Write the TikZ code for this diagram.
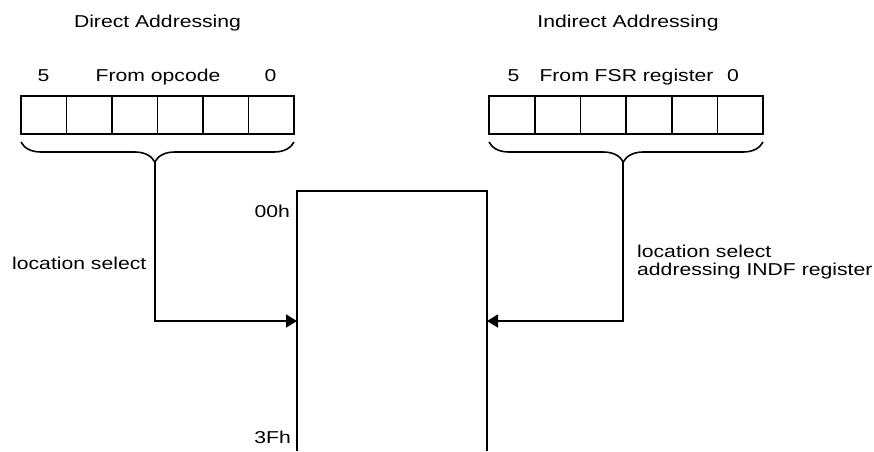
\documentclass[tikz,border=0pt]{standalone}
\usepackage{fontspec}
\setmainfont{Liberation Sans}
\usepackage{graphicx}
\usetikzlibrary{arrows.meta,decorations.pathreplacing}
\newcommand{\sx}[1]{\scalebox{1.23}[1]{#1}}
\begin{document}
\begin{tikzpicture}[x=1pt,y=-1pt,
  font=\fontsize{17.2}{18}\selectfont,
  cell/.style={draw=black,line width=1.6pt,minimum width=45.6pt,minimum height=38pt,inner sep=0pt},
  lbl/.style={inner sep=0pt,anchor=base},
  bracestyle/.style={draw=black,line width=1.6pt,decorate,decoration={brace,amplitude=20pt,mirror,aspect=0.49}},
  conn/.style={draw=black,line width=1.7pt,-{Triangle[length=11pt,width=13pt]}},
  memline/.style={draw=black,line width=1.7pt}]
\useasboundingbox (0,0) rectangle (874,451);
% registers
\foreach \i in {0,...,5}{
  \node[cell] (L\i) at ({21+45.5*\i+22.75},115) {};
  \node[cell] (R\i) at ({489+45.67*\i+22.83},115) {};
}
% titles
\node[lbl] (tl) at (157.5,27.3) {\sx{Direct Addressing}};
\node[lbl] (tr) at (628,27.3) {\sx{Indirect Addressing}};
\node[lbl] (l5) at (43.5,81.5) {\sx{5}};
\node[lbl] (lf) at (158,81.5) {\sx{From opcode}};
\node[lbl] (l0) at (270.5,81.5) {\sx{0}};
\node[lbl] (r5) at (513.5,81.5) {\sx{5}};
\node[lbl] (rf) at (626.5,81.5) {\sx{From FSR register}};
\node[lbl] (r0) at (733,81.5) {\sx{0}};
% braces
\draw[bracestyle] (21,142) -- (294,142);
\draw[bracestyle] (489,142) -- (763,142);
\coordinate (LB) at (154.8,162);
\coordinate (RB) at (623.3,162);
% memory block (open at bottom)
\coordinate (MTL) at (297,191);
\coordinate (MTR) at (487,191);
\coordinate (MBL) at (297,451);
\coordinate (MBR) at (487,451);
\draw[memline] (MBL) -- (MTL) -- (MTR) -- (MBR);
\coordinate (LA) at (297,321);
\coordinate (RA) at (487,321);
\node[lbl,anchor=base east] (a00) at (290,217) {\sx{00h}};
\node[lbl,anchor=base east] (a3f) at (291,443) {\sx{3Fh}};
% connectors
\draw[conn] (LB) |- (LA);
\draw[conn] (RB) |- (RA);
\node[lbl,anchor=base west] (ls) at (12,269) {\sx{location select}};
\node[inner sep=0pt,anchor=north west] (rs) at (637,244.4)
  {\sx{\begin{tabular}{@{}l@{}}location select\\addressing INDF register\end{tabular}}};
\end{tikzpicture}
\end{document}
